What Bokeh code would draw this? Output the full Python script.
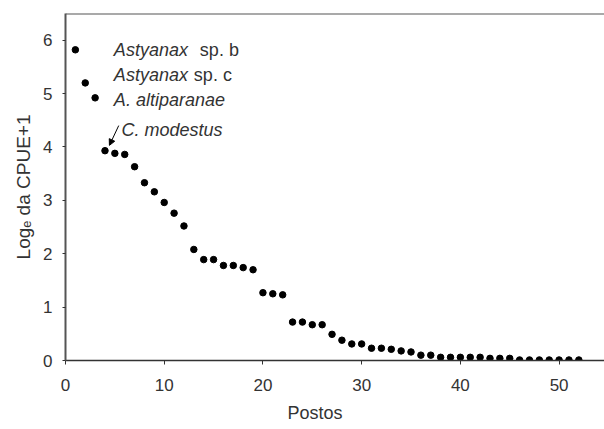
from bokeh.plotting import figure
from bokeh.models import (Range1d, FixedTicker, Label, Arrow, NormalHead, Span,
                          Title)
from bokeh.embed import file_html
from bokeh.resources import INLINE

# ---- data ----
ranks = list(range(1, 53))
log_cpue = [5.82, 5.20, 4.92, 3.93, 3.88, 3.86, 3.63, 3.33, 3.16, 2.96,
            2.76, 2.52, 2.08, 1.89, 1.89, 1.78, 1.78, 1.74, 1.70, 1.27,
            1.25, 1.23, 0.72, 0.72, 0.67, 0.67, 0.49, 0.38, 0.31, 0.31,
            0.23, 0.23, 0.21, 0.18, 0.16, 0.10, 0.10, 0.06, 0.06, 0.06,
            0.06, 0.06, 0.04, 0.04, 0.04, 0.01, 0.01, 0.01, 0.01, 0.01,
            0.01, 0.01]
x_ticks = [0, 10, 20, 30, 40, 50]
y_ticks = [0, 1, 2, 3, 4, 5, 6]
species_italic = ["Astyanax", "Astyanax", "A. altiparanae"]
species_suffix = ["sp. b", "sp. c", ""]
species_y = [5.82, 5.34, 4.88]
modestus_label = "C. modestus"

FONT = "Liberation Sans"
TXT = "#333333"
Y_END = 6.5

p = figure(width=604, height=429, output_backend="svg", toolbar_location=None,
           x_range=Range1d(0, 54.6), y_range=Range1d(0, Y_END),
           min_border_left=65, min_border_right=0, min_border_top=13,
           min_border_bottom=69)
p.outline_line_color = None
p.xgrid.visible = False
p.ygrid.visible = False
p.background_fill_color = "white"
p.border_fill_color = "white"

p.scatter(ranks, log_cpue, size=6.5, color="black")

# x axis
xa = p.xaxis[0]
xa.ticker = FixedTicker(ticks=x_ticks)
xa.axis_line_color = "#333333"
xa.axis_line_width = 1.5
xa.major_tick_line_color = "#333333"
xa.major_tick_in = 0
xa.major_tick_out = 4
xa.minor_tick_line_color = None
xa.major_label_text_font = FONT
xa.major_label_text_font_size = "17px"
xa.major_label_text_color = TXT
xa.major_label_standoff = 14

# y axis
ya = p.yaxis[0]
ya.ticker = FixedTicker(ticks=y_ticks)
ya.axis_line_color = "#555555"
ya.axis_line_width = 2
ya.major_tick_line_color = "#333333"
ya.major_tick_in = 0
ya.major_tick_out = 3
ya.minor_tick_line_color = None
ya.major_label_text_font = FONT
ya.major_label_text_font_size = "17px"
ya.major_label_text_color = TXT
ya.major_label_standoff = 10
ya.axis_label = "Log\u2091 da CPUE+1"
ya.axis_label_text_font = FONT
ya.axis_label_text_font_size = "19px"
ya.axis_label_text_font_style = "normal"
ya.axis_label_text_color = TXT
ya.axis_label_standoff = 6

# top border
p.add_layout(Span(location=Y_END, dimension="width", line_color="#555555", line_width=2))

# x axis title
p.add_layout(Title(text="Postos", align="left", offset=222, standoff=14,
                   text_font=FONT, text_font_size="18px",
                   text_font_style="normal", text_color=TXT), "below")

# species annotations
offsets = [86, 80, 0]
for name, suf, yy, off in zip(species_italic, species_suffix, species_y, offsets):
    p.add_layout(Label(x=4.9, y=yy, text=name, text_font=FONT,
                       text_font_style="italic", text_font_size="18px",
                       text_color=TXT, text_baseline="alphabetic"))
    if suf:
        p.add_layout(Label(x=4.9, y=yy, x_offset=off, text=suf, text_font=FONT,
                           text_font_size="18px", text_color=TXT,
                           text_baseline="alphabetic"))

p.add_layout(Label(x=5.67, y=4.31, text=modestus_label, text_font=FONT,
                   text_font_style="italic", text_font_size="18px",
                   text_color=TXT, text_baseline="alphabetic"))
p.add_layout(Arrow(x_start=5.39, y_start=4.40, x_end=4.45, y_end=4.03,
                   line_color="black", line_width=1,
                   end=NormalHead(size=6, fill_color="black", line_color="black")))

open("out.html", "w").write(file_html(p, INLINE))
